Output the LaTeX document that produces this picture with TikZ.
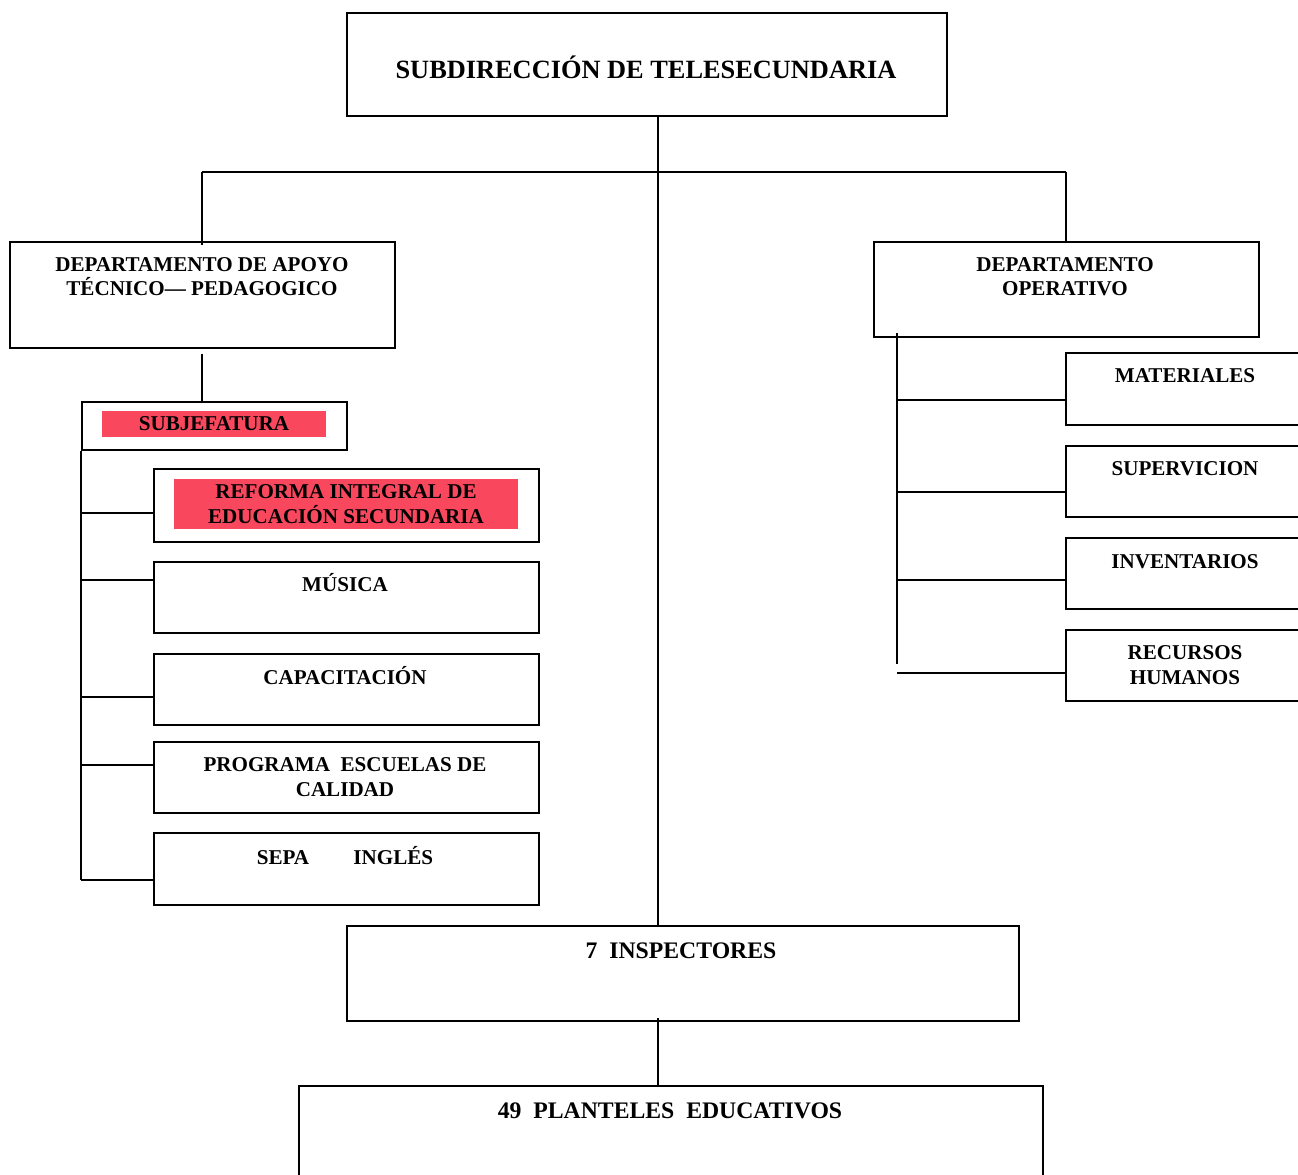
\documentclass[tikz,border=0pt]{standalone}
\usepackage{fontspec}
\setmainfont{Liberation Serif}
\usepackage{tikz}
\usetikzlibrary{calc}
\definecolor{hl_pink}{RGB}{249, 72, 94}
\tikzstyle{box}=[rectangle,draw=black,line width=1.1pt,inner sep=0pt,anchor=north west]
\tikzstyle{lbl}=[align=center,inner sep=0pt,anchor=base,
  font=\bfseries\fontsize{12}{14.2}\selectfont]
\tikzstyle{biglbl}=[lbl,font=\bfseries\fontsize{13.5}{16}\selectfont]
\tikzstyle{hl}=[lbl,anchor=center,fill=hl_pink]
\tikzstyle{wire}=[line width=1.1pt]

\begin{document}
\begin{tikzpicture}[x=0.02cm,y=-0.02cm]
		\useasboundingbox (0,0) rectangle (1298,1175);
		\clip (0,0) rectangle (1298,1175);
		% boxes
		\node [style=box,minimum width=12cm,minimum height=2.06cm] (top) at (346,12) {};
		\node [style=box,minimum width=7.7cm,minimum height=2.12cm] (dapt) at (9,241) {};
		\node [style=box,minimum width=7.7cm,minimum height=1.9cm] (dop) at (873,241) {};
		\node [style=box,minimum width=5.3cm,minimum height=0.96cm] (subj) at (81,401) {};
		\node [style=box,minimum width=7.7cm,minimum height=1.46cm] (ref) at (153,468) {};
		\node [style=box,minimum width=7.7cm,minimum height=1.42cm] (mus) at (153,561) {};
		\node [style=box,minimum width=7.7cm,minimum height=1.42cm] (cap) at (153,653) {};
		\node [style=box,minimum width=7.7cm,minimum height=1.42cm] (prog) at (153,741) {};
		\node [style=box,minimum width=7.7cm,minimum height=1.44cm] (sepa) at (153,832) {};
		\node [style=box,minimum width=4.8cm,minimum height=1.44cm] (mat) at (1065,352) {};
		\node [style=box,minimum width=4.8cm,minimum height=1.42cm] (sup) at (1065,445) {};
		\node [style=box,minimum width=4.8cm,minimum height=1.42cm] (inv) at (1065,537) {};
		\node [style=box,minimum width=4.8cm,minimum height=1.42cm] (rh) at (1065,629) {};
		\node [style=box,minimum width=13.44cm,minimum height=1.9cm] (insp) at (346,925) {};
		\node [style=box,minimum width=14.88cm,minimum height=2.4cm] (plan) at (298,1085) {};
		% texts (base = last line)
		\node [style=lbl,font=\bfseries\fontsize{15}{17}\selectfont] (topt) at (646,79) {SUBDIRECCIÓN DE TELESECUNDARIA};
		\node [style=lbl] (daptt) at (202,296) {DEPARTAMENTO DE APOYO\\TÉCNICO— PEDAGOGICO};
		\node [style=lbl] (dopt) at (1065,296) {DEPARTAMENTO\\OPERATIVO};
		\node [style=hl,minimum width=4.48cm,minimum height=0.52cm] (subjt) at (214,424) {SUBJEFATURA};
		\node [style=hl,minimum width=6.88cm,minimum height=1cm] (reft) at (346,504) {REFORMA INTEGRAL DE\\EDUCACIÓN SECUNDARIA};
		\node [style=lbl] (must) at (345,591) {MÚSICA};
		\node [style=lbl] (capt) at (345,684) {CAPACITACIÓN};
		\node [style=lbl] (progt) at (345,796) {PROGRAMA~ ESCUELAS DE\\CALIDAD};
		\node [style=lbl] (sepat) at (345,864) {SEPA\hspace{2.1em}INGLÉS};
		\node [style=lbl] (matt) at (1185,383) {MATERIALES};
		\node [style=lbl] (supt) at (1185,476) {SUPERVICION};
		\node [style=lbl] (invt) at (1185,568) {INVENTARIOS};
		\node [style=lbl] (rht) at (1185,684) {RECURSOS\\HUMANOS};
		\node [style=biglbl] (inspt) at (681,958) {7~ INSPECTORES};
		\node [style=biglbl] (plant) at (670,1118) {49~ PLANTELES~ EDUCATIVOS};
		% connectors
		\coordinate (bus) at (658,172);
		\coordinate (rsp) at (897,333);
		\draw [style=wire] (bus |- top.south) to (bus |- insp.north);
		\draw [style=wire] (dapt.north |- bus) to (dop.north |- bus);
		\draw [style=wire] (dapt.north |- bus) to ([yshift=-2pt]dapt.north);
		\draw [style=wire] (dop.north |- bus) to (dop.north);
		\draw [style=wire] ([yshift=-3pt]dapt.south) to (dapt.south |- subj.north);
		\draw [style=wire] (subj.south west) to (subj.west |- 0,880);
		\foreach \n/\y in {ref/513,mus/580,cap/697,prog/765,sepa/880}
			\draw [style=wire] (subj.west |- 0,\y) to (\n.west |- 0,\y);
		\draw [style=wire] (rsp) to (rsp |- 0,664);
		\foreach \n/\y in {mat/400,sup/492,inv/580,rh/673}
			\draw [style=wire] (rsp |- 0,\y) to (\n.west |- 0,\y);
		\draw [style=wire] ([yshift=2pt]bus |- insp.south) to (bus |- plan.north);
\end{tikzpicture}
\end{document}
